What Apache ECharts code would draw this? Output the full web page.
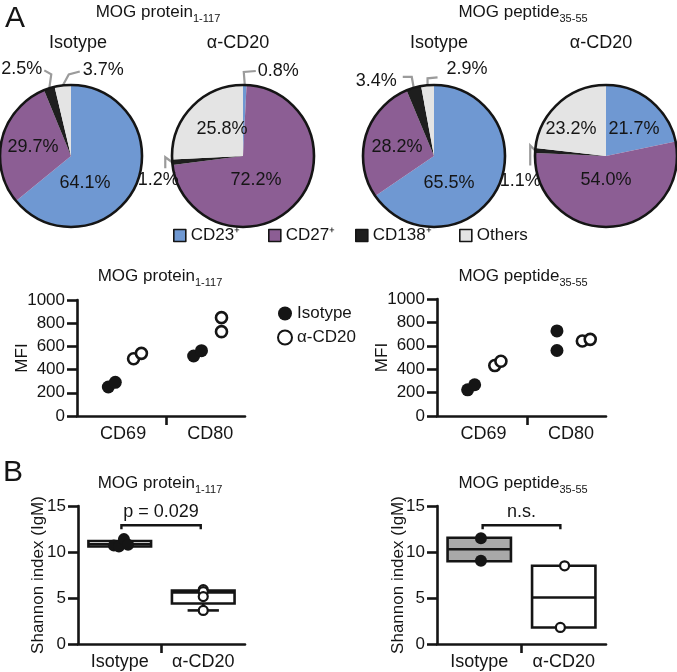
<!DOCTYPE html>
<html><head><meta charset="utf-8">
<script src="https://cdn.jsdelivr.net/npm/echarts@6/dist/echarts.min.js"></script>
<style>html,body{margin:0;padding:0;background:#fff}#c{width:677px;height:672px}</style>
</head><body><div id="c"></div><script>
// ---------- DATA ----------
const pieNames = ['CD23⁺', 'CD27⁺', 'CD138⁺', 'Others'];
const proteinIsotypePct = [64.1, 29.7, 2.5, 3.7];
const proteinCD20Pct = [0.8, 72.2, 1.2, 25.8];
const peptideIsotypePct = [65.5, 28.2, 3.4, 2.9];
const peptideCD20Pct = [21.7, 54.0, 1.1, 23.2];

const mfiCategories = ['CD69', 'CD80'];          // placed at x = 1 and x = 2
const mfiProteinIsotype = [[0.83, 250], [0.91, 290], [1.81, 517], [1.90, 563]];
const mfiProteinCD20 = [[1.12, 494], [1.21, 540], [2.13, 727], [2.13, 848]];
const mfiPeptideIsotype = [[0.82, 224], [0.90, 267], [1.84, 560], [1.84, 727]];
const mfiPeptideCD20 = [[1.13, 431], [1.20, 468], [2.13, 641], [2.22, 655]];

const groupCategories = ['Isotype', 'α-CD20'];   // placed at x = 1 and x = 2
// [x, min, Q1, median, Q3, max]
const shannonProteinBox = [[1, 10.6, 10.6, 10.85, 11.2, 11.2], [2, 3.65, 4.4, 5.6, 5.8, 5.8]];
const shannonPeptideBox = [[1, 9.0, 9.0, 10.3, 11.55, 11.55], [2, 1.8, 1.8, 5.05, 8.5, 8.5]];
const shannonProteinIsotype = [[0.93, 10.7], [0.99, 10.6], [1.05, 11.4], [1.10, 10.8]];
const shannonProteinCD20 = [[2.0, 5.9], [2.0, 5.7], [2.0, 5.15], [2.0, 3.65]];
const shannonPeptideIsotype = [[1.02, 11.5], [1.02, 9.05]];
const shannonPeptideCD20 = [[2.01, 8.5], [1.96, 1.8]];
const sigProtein = [[1.02, 1.97, 12.9]];
const sigPeptide = [[1.04, 1.96, 12.9]];
const sigProteinText = 'p = 0.029';
const sigPeptideText = 'n.s.';

// ---------- STYLE ----------
const FONT = '"Liberation Sans", Arial, Helvetica, sans-serif';
const INK = '#151515';
const pieColors = ['#6f98d2', '#8c5e94', '#1e1e1e', '#e4e4e4'];
const PIE_R = 71;
const BOX_W = 0.75;

// label placement per slice (relative offsets, px)
const pieLabelStyle = [
  [ {inside: true, d: [14, 27]}, {inside: true, d: [-38, -9]},
    {bend: [2, -14], end: [-7, -4], off: [-2, -1], align: 'right'},
    {bend: [6, -11], end: [11, -3], off: [3, -1], align: 'left'} ],
  [ {bend: [-1, -13], end: [12, -1], off: [2, 0], align: 'left'},
    {inside: true, d: [13, 24]},
    {bend: [-7, -5], end: [0, 11], off: [-7, 12], align: 'center'},
    {inside: true, d: [-21, -27]} ],
  [ {inside: true, d: [15, 27]}, {inside: true, d: [-37, -9]},
    {bend: [-2, -11], end: [-9, 0], off: [-6, 4], align: 'right'},
    {bend: [0, -7], end: [10, -1], off: [9, -8], align: 'left'} ],
  [ {inside: true, d: [28, -27]}, {inside: true, d: [0, 24]},
    {bend: [-5, -5], end: [0, 20], off: [-10, 16], align: 'center'},
    {inside: true, d: [-35, -27]} ]
];
const pieCenters = [[71, 156], [243, 156], [434, 156], [606, 156]];
const pieValues = [proteinIsotypePct, proteinCD20Pct, peptideIsotypePct, peptideCD20Pct];

function pieSeries(k) {
  const cfg = pieLabelStyle[k];
  const c = pieCenters[k];
  return {
    type: 'pie', center: c, radius: PIE_R, startAngle: 90, clockwise: true,
    avoidLabelOverlap: false, silent: true, animation: false,
    itemStyle: {borderWidth: 0},
    label: {show: true, position: 'outside', fontSize: 18, fontFamily: FONT, color: INK,
      formatter: p => p.value.toFixed(1) + '%'},
    labelLine: {show: true, length: 10, length2: 10, smooth: false,
      lineStyle: {color: '#9b9b9b', width: 2.2}},
    labelLayout: function (params) {
      const L = cfg[params.dataIndex];
      if (L.inside) {
        return {x: c[0] + L.d[0], y: c[1] + L.d[1], align: 'center', verticalAlign: 'middle'};
      }
      const p0 = params.labelLinePoints[0];
      const p1 = [p0[0] + L.bend[0], p0[1] + L.bend[1]];
      const p2 = [p1[0] + L.end[0], p1[1] + L.end[1]];
      return {x: p2[0] + L.off[0], y: p2[1] + L.off[1], align: L.align,
        verticalAlign: 'middle', labelLinePoints: [p0, p1, p2]};
    },
    data: pieValues[k].map((v, i) => ({
      value: v, name: pieNames[i], itemStyle: {color: pieColors[i]},
      label: cfg[i].inside ? {position: 'inside'} : {position: 'outside'},
      labelLine: cfg[i].inside ? {show: false} : {show: true}
    }))
  };
}
function pieOutline(k) {
  return {type: 'pie', center: pieCenters[k], radius: PIE_R, silent: true, animation: false,
    label: {show: false}, labelLine: {show: false},
    itemStyle: {color: 'rgba(0,0,0,0)', borderColor: INK, borderWidth: 2.6},
    data: [{value: 1, name: 'outline'}], z: 5};
}

const axisLineStyle = {color: INK, width: 2.6};
function xAxisCfg(grid, min, max, cats) {
  return {type: 'value', gridIndex: grid, min: min, max: max,
    axisLine: {show: true, onZero: false, lineStyle: axisLineStyle},
    splitLine: {show: false},
    axisTick: {show: true, customValues: [1.5], length: 9, lineStyle: axisLineStyle},
    axisLabel: {customValues: [1, 2], formatter: v => cats[Math.round(v) - 1],
      fontSize: 18, fontFamily: FONT, color: INK, margin: 9}};
}
function yAxisCfg(grid, max, interval, name, gap) {
  return {type: 'value', gridIndex: grid, min: 0, max: max, interval: interval,
    name: name, nameLocation: 'middle', nameRotate: 90, nameGap: gap, nameMoveOverlap: false,
    nameTextStyle: {fontSize: 17, fontFamily: FONT, color: INK},
    axisLine: {show: true, lineStyle: axisLineStyle},
    splitLine: {show: false},
    axisTick: {show: true, length: 10, lineStyle: axisLineStyle},
    axisLabel: {fontSize: 17, fontFamily: FONT, color: INK, margin: 12, formatter: v => String(v)}};
}

const boxFills = [['#ffffff', '#ffffff'], ['#a9a9a9', '#ffffff']];
function boxSeries(grid, data, fills) {
  return {type: 'custom', xAxisIndex: grid, yAxisIndex: grid, silent: true, animation: false,
    clip: false, z: 3,
    dimensions: ['x', 'min', 'q1', 'med', 'q3', 'max'],
    encode: {x: 0, y: [1, 2, 3, 4, 5]},
    data: data,
    renderItem: function (params, api) {
      const x = api.value(0);
      const ys = [1, 2, 3, 4, 5].map(i => api.coord([x, api.value(i)])[1]);
      const cx = api.coord([x, 0])[0];
      const w = api.size([BOX_W, 0])[0];
      const st = {stroke: INK, lineWidth: 2.6, fill: null};
      const ch = [];
      if (ys[0] - ys[1] > 0.5) {
        ch.push({type: 'line', shape: {x1: cx, y1: ys[1], x2: cx, y2: ys[0]}, style: st});
        ch.push({type: 'line', shape: {x1: cx - w / 4, y1: ys[0], x2: cx + w / 4, y2: ys[0]}, style: st});
      }
      if (ys[3] - ys[4] > 0.5) {
        ch.push({type: 'line', shape: {x1: cx, y1: ys[3], x2: cx, y2: ys[4]}, style: st});
        ch.push({type: 'line', shape: {x1: cx - w / 4, y1: ys[4], x2: cx + w / 4, y2: ys[4]}, style: st});
      }
      ch.push({type: 'rect', shape: {x: cx - w / 2, y: ys[3], width: w, height: ys[1] - ys[3]},
        style: {stroke: INK, lineWidth: 2.6, fill: fills[params.dataIndex]}});
      ch.push({type: 'line', shape: {x1: cx - w / 2, y1: ys[2], x2: cx + w / 2, y2: ys[2]}, style: st});
      return {type: 'group', children: ch};
    }};
}
function sigSeries(grid, data, text) {
  return {type: 'custom', xAxisIndex: grid, yAxisIndex: grid, silent: true, animation: false,
    clip: false, z: 6, encode: {x: [0, 1], y: 2}, data: data,
    renderItem: function (params, api) {
      const a = api.coord([api.value(0), api.value(2)]);
      const b = api.coord([api.value(1), api.value(2)]);
      return {type: 'group', children: [
        {type: 'polyline', shape: {points: [[a[0], a[1] + 4], a, b, [b[0], b[1] + 4]]},
          style: {stroke: INK, lineWidth: 2.4, fill: null}},
        {type: 'text', style: {text: text, x: (a[0] + b[0]) / 2, y: a[1] - 4, align: 'center',
          verticalAlign: 'bottom', fontSize: 18, fontFamily: FONT, fill: INK}}
      ]};
    }};
}
const filledDot = {color: INK, opacity: 1};
const openDot = {color: '#ffffff', borderColor: INK, borderWidth: 2.6, opacity: 1};
const openDotSmall = {color: '#ffffff', borderColor: INK, borderWidth: 2.2, opacity: 1};

const richTitle = {
  m: {fontSize: 17, fontFamily: FONT, color: INK, fontWeight: 'normal', lineHeight: 24},
  s: {fontSize: 11, fontFamily: FONT, color: INK, fontWeight: 'normal', lineHeight: 12, verticalAlign: 'bottom'}
};
function subTitle(main, sub, x, y) {
  return {text: '{m|' + main + '}{s|' + sub + '}', left: x, top: y, textAlign: 'center', padding: 0,
    textStyle: {fontWeight: 'normal', rich: richTitle}};
}
function plainTitle(t, x, y, size) {
  return {text: t, left: x, top: y, textAlign: 'center', padding: 0,
    textStyle: {fontSize: size, fontFamily: FONT, color: INK, fontWeight: 'normal', lineHeight: size + 2}};
}

const legendText = {fontSize: 17, fontFamily: FONT, color: INK};
const legendLefts = [173, 268, 355, 459];

const option = {
  backgroundColor: '#ffffff',
  animation: false,
  title: [
    plainTitle('A', 15, 3, 30),
    plainTitle('B', 13, 457, 30),
    subTitle('MOG protein', '1-117', 158, 0),
    subTitle('MOG peptide', '35-55', 523, 0),
    plainTitle('Isotype', 78, 33, 18),
    plainTitle('α-CD20', 238, 33, 18),
    plainTitle('Isotype', 439, 33, 18),
    plainTitle('α-CD20', 601, 33, 18),
    subTitle('MOG protein', '1-117', 160, 264),
    subTitle('MOG peptide', '35-55', 523, 264),
    subTitle('MOG protein', '1-117', 160, 471),
    subTitle('MOG peptide', '35-55', 523, 471)
  ],
  legend: pieNames.map((n, i) => ({
    data: [n], left: legendLefts[i], top: 227, padding: 0, itemWidth: 12, itemHeight: 12, itemGap: 0,
    icon: 'rect', selectedMode: false,
    itemStyle: {borderColor: INK, borderWidth: 1.6},
    textStyle: legendText
  })).concat([{
    data: ['Isotype', 'α-CD20'], orient: 'vertical', left: 277, top: 305, padding: 0,
    itemWidth: 14, itemHeight: 14, itemGap: 7, icon: 'circle', selectedMode: false,
    textStyle: legendText
  }]),
  grid: [
    {left: 77, top: 300, width: 168, height: 116},
    {left: 437, top: 299, width: 169, height: 117},
    {left: 78, top: 506, width: 167, height: 138},
    {left: 437, top: 506, width: 169, height: 138}
  ],
  xAxis: [
    xAxisCfg(0, 0.47, 2.4, mfiCategories),
    xAxisCfg(1, 0.47, 2.4, mfiCategories),
    xAxisCfg(2, 0.5, 2.5, groupCategories),
    xAxisCfg(3, 0.5, 2.5, groupCategories)
  ],
  yAxis: [
    yAxisCfg(0, 1000, 200, 'MFI', 46),
    yAxisCfg(1, 1000, 200, 'MFI', 46),
    yAxisCfg(2, 15, 5, 'Shannon index (IgM)', 31),
    yAxisCfg(3, 15, 5, 'Shannon index (IgM)', 30)
  ],
  series: [
    pieSeries(0), pieSeries(1), pieSeries(2), pieSeries(3),
    pieOutline(0), pieOutline(1), pieOutline(2), pieOutline(3),
    {type: 'scatter', name: 'Isotype', xAxisIndex: 0, yAxisIndex: 0, data: mfiProteinIsotype, symbolSize: 13, itemStyle: filledDot, silent: true, z: 4},
    {type: 'scatter', name: 'α-CD20', xAxisIndex: 0, yAxisIndex: 0, data: mfiProteinCD20, symbolSize: 11, itemStyle: openDot, silent: true, z: 4},
    {type: 'scatter', name: 'Isotype', xAxisIndex: 1, yAxisIndex: 1, data: mfiPeptideIsotype, symbolSize: 13, itemStyle: filledDot, silent: true, z: 4},
    {type: 'scatter', name: 'α-CD20', xAxisIndex: 1, yAxisIndex: 1, data: mfiPeptideCD20, symbolSize: 11, itemStyle: openDot, silent: true, z: 4},
    boxSeries(2, shannonProteinBox, boxFills[0]),
    boxSeries(3, shannonPeptideBox, boxFills[1]),
    {type: 'scatter', name: 'Isotype', xAxisIndex: 2, yAxisIndex: 2, data: shannonProteinIsotype, symbolSize: 12, itemStyle: filledDot, silent: true, z: 5},
    {type: 'scatter', name: 'α-CD20', xAxisIndex: 2, yAxisIndex: 2, data: shannonProteinCD20, symbolSize: 9, itemStyle: openDotSmall, silent: true, z: 5},
    {type: 'scatter', name: 'Isotype', xAxisIndex: 3, yAxisIndex: 3, data: shannonPeptideIsotype, symbolSize: 12, itemStyle: filledDot, silent: true, z: 5},
    {type: 'scatter', name: 'α-CD20', xAxisIndex: 3, yAxisIndex: 3, data: shannonPeptideCD20, symbolSize: 9, itemStyle: openDotSmall, silent: true, z: 5},
    sigSeries(2, sigProtein, sigProteinText),
    sigSeries(3, sigPeptide, sigPeptideText)
  ]
};
const chart = echarts.init(document.getElementById('c'), null, {renderer: 'canvas'});
chart.setOption(option);
</script></body></html>
